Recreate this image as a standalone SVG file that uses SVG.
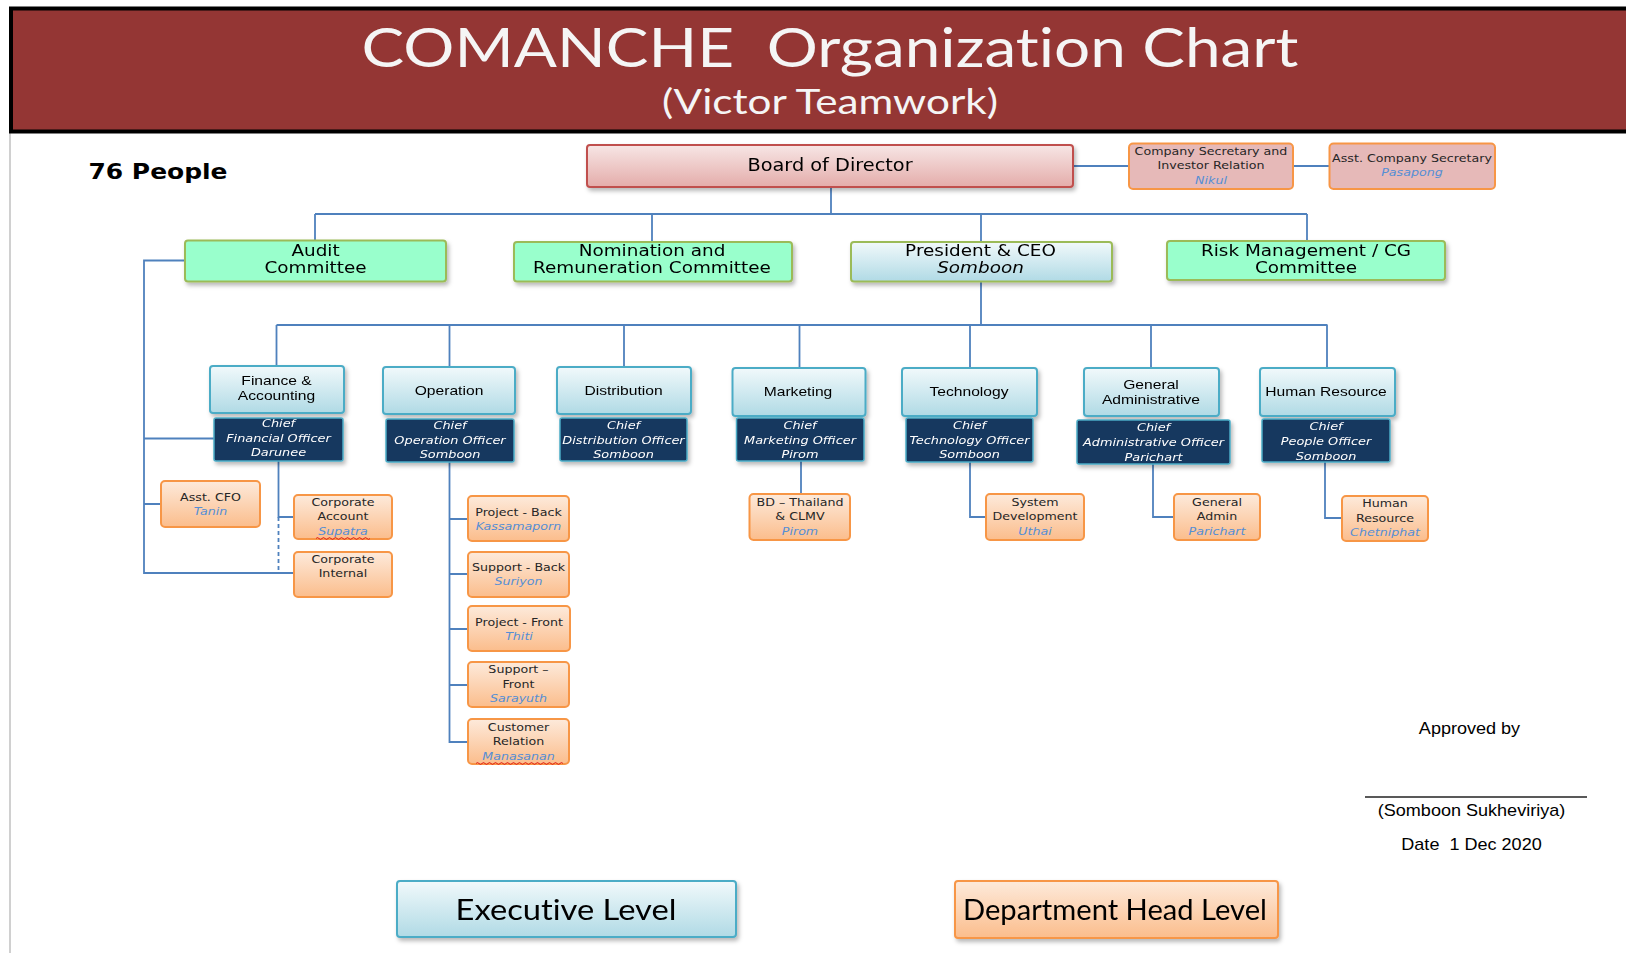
<svg xmlns="http://www.w3.org/2000/svg" width="1626" height="953" viewBox="0 0 1626 953">
<defs>
<style>
.t{font-family:"DejaVu Sans","Liberation Sans",sans-serif;text-anchor:middle}
.sub{font-size:11px;fill:#262626}
.nm{font-style:italic;fill:#558ed5}
.dk{font-size:11.2px;font-style:italic;fill:#ffffff}
.dp{font-family:"Liberation Sans",Arial,sans-serif;font-size:13.6px;fill:#000;text-anchor:middle}
.cm{font-size:16px;fill:#000}
.ln{fill:none;stroke:#4f81bd;stroke-width:1.8}
.green{fill:#99ffcc;stroke:#9bbb59;stroke-width:2}
.dept{fill:url(#blueG);stroke:#4bacc6;stroke-width:2}
.dark{fill:#17375e;stroke:#4bacc6;stroke-width:1.5}
.org{fill:url(#orgG);stroke:#f79646;stroke-width:2}
.sec{fill:#e6b9b8;stroke:#f79646;stroke-width:2}
.sig{font-family:"Liberation Sans",Arial,sans-serif;font-size:15.7px;fill:#000;text-anchor:middle}
.lat{font-family:Lato,"Open Sans",sans-serif;text-anchor:middle;font-variant-ligatures:none;font-feature-settings:"liga" 0,"dlig" 0}
</style>
<linearGradient id="blueG" x1="0" y1="0" x2="0" y2="1"><stop offset="0" stop-color="#f1f9fb"/><stop offset="1" stop-color="#b0dae5"/></linearGradient>
<linearGradient id="orgG" x1="0" y1="0" x2="0" y2="1"><stop offset="0" stop-color="#fdeadb"/><stop offset="1" stop-color="#fbbd8c"/></linearGradient>
<linearGradient id="pinkG" x1="0" y1="0" x2="0" y2="1"><stop offset="0" stop-color="#f7e6e5"/><stop offset="1" stop-color="#e4acaa"/></linearGradient>
<filter id="sh" x="-10%" y="-20%" width="130%" height="160%"><feDropShadow dx="2" dy="3" stdDeviation="2" flood-color="#000" flood-opacity="0.28"/></filter>
</defs>
<rect width="1626" height="953" fill="#ffffff"/>
<line x1="10" y1="133" x2="10" y2="953" stroke="#d0d0d0" stroke-width="2"/>

<g id="header">
<rect x="11" y="8.5" width="1625" height="123" fill="#943634" stroke="#000" stroke-width="4"/>
<text class="lat" x="830" y="67" font-size="54" fill="#f5f5f5" textLength="937" lengthAdjust="spacingAndGlyphs" style="white-space:pre">COMANCHE  Organization Chart</text>
<text class="lat" x="830" y="114" font-size="34" fill="#f5f5f5" textLength="336" lengthAdjust="spacingAndGlyphs">(Victor Teamwork)</text>
</g>

<text id="people" transform="matrix(1.15 0 0 1 158 0)" x="0" y="179" font-family="'DejaVu Sans',sans-serif" font-weight="bold" font-size="21.7" text-anchor="middle" fill="#000">76 People</text>

<g id="connectors">
<path class="ln" d="M1073 166H1129M1293 166H1329.5"/>
<path class="ln" d="M831 187V214M315 214H1307M315 214V240M652 214V242M981 214V242M1307 214V241"/>
<path class="ln" d="M981 281V325M276.5 325H1327.5M276.5 325V366M449.5 325V367M624 325V367M799.5 325V368M970 325V368M1151 325V368M1327 325V368"/>
<path class="ln" d="M185 260.5H144V573H294M144 438.5H214M144 504H161"/>
<path class="ln" d="M278.5 461V517H294"/>
<path class="ln" d="M278.5 517V573" stroke-dasharray="4 3"/>
<path class="ln" d="M449.5 462V742H468M449.5 519H468M449.5 574H468M449.5 629H468M449.5 685H468"/>
<path class="ln" d="M801 461V494"/>
<path class="ln" d="M970 462V517H986"/>
<path class="ln" d="M1153 464V517H1174"/>
<path class="ln" d="M1325 462V518H1342"/>
</g>

<g id="board" filter="url(#sh)">
<rect x="587" y="145" width="486" height="42" rx="3" fill="url(#pinkG)" stroke="#c0504d" stroke-width="2"/>
<text class="t" transform="matrix(1.15 0 0 1 830 0)" x="0" y="171" font-size="16.8">Board of Director</text>
</g>
<g id="compsec">
<rect class="sec" x="1129" y="143.5" width="164" height="45.5" rx="4"/>
<g transform="matrix(1.15 0 0 1 1211 0)"><text class="t sub" x="0" y="155">Company Secretary and</text><text class="t sub" x="0" y="169.5">Investor Relation</text><text class="t sub nm" x="0" y="184">Nikul</text></g>
</g>
<g id="asstsec">
<rect class="sec" x="1329.5" y="143.5" width="165.5" height="45.5" rx="4"/>
<g transform="matrix(1.15 0 0 1 1412 0)"><text class="t sub" x="0" y="162">Asst. Company Secretary</text><text class="t sub nm" x="0" y="176.5">Pasapong</text></g>
</g>

<g id="audit" filter="url(#sh)">
<rect class="green" x="185" y="240.5" width="261" height="41" rx="3"/>
<g transform="matrix(1.15 0 0 1 315.5 0)"><text class="t cm" x="0" y="256">Audit</text><text class="t cm" x="0" y="273">Committee</text></g>
</g>
<g id="nomination" filter="url(#sh)">
<rect class="green" x="514" y="242" width="278" height="39.5" rx="3"/>
<g transform="matrix(1.15 0 0 1 652 0)"><text class="t cm" x="0" y="256.5">Nomination and</text><text class="t cm" x="0" y="273.5">Remuneration Committee</text></g>
</g>
<g id="president" filter="url(#sh)">
<rect x="851" y="242" width="261" height="39.5" rx="3" fill="url(#blueG)" stroke="#9bbb59" stroke-width="2"/>
<g transform="matrix(1.15 0 0 1 980.5 0)"><text class="t cm" x="0" y="256.5">President &amp; CEO</text><text class="t cm" x="0" y="273.5" font-style="italic">Somboon</text></g>
</g>
<g id="risk" filter="url(#sh)">
<rect class="green" x="1167" y="241" width="278" height="39" rx="3"/>
<g transform="matrix(1.15 0 0 1 1306 0)"><text class="t cm" x="0" y="256">Risk Management / CG</text><text class="t cm" x="0" y="273">Committee</text></g>
</g>

<g id="finance" filter="url(#sh)">
<rect class="dept" x="210" y="366" width="134" height="47" rx="3"/>
<g transform="matrix(1.15 0 0 1 276.5 0)"><text class="dp" x="0" y="385.5">Finance &amp;</text><text class="dp" x="0" y="400">Accounting</text></g>
<rect class="dark" x="214" y="418" width="129" height="43" rx="2"/>
<g transform="matrix(1.15 0 0 1 278.5 0)"><text class="t dk" x="0" y="427.5">Chief</text><text class="t dk" x="0" y="442.5">Financial Officer</text><text class="t dk" x="0" y="456.5">Darunee</text></g>
</g>
<g id="operation" filter="url(#sh)">
<rect class="dept" x="383" y="367" width="132" height="47" rx="3"/>
<g transform="matrix(1.15 0 0 1 449 0)"><text class="dp" x="0" y="395">Operation</text></g>
<rect class="dark" x="386" y="419" width="128" height="43" rx="2"/>
<g transform="matrix(1.15 0 0 1 450 0)"><text class="t dk" x="0" y="429">Chief</text><text class="t dk" x="0" y="444">Operation Officer</text><text class="t dk" x="0" y="458">Somboon</text></g>
</g>
<g id="distribution" filter="url(#sh)">
<rect class="dept" x="557" y="367" width="134" height="47" rx="3"/>
<g transform="matrix(1.15 0 0 1 623.5 0)"><text class="dp" x="0" y="395">Distribution</text></g>
<rect class="dark" x="560" y="418" width="127" height="43" rx="2"/>
<g transform="matrix(1.15 0 0 1 623.5 0)"><text class="t dk" x="0" y="429">Chief</text><text class="t dk" x="0" y="444">Distribution Officer</text><text class="t dk" x="0" y="458">Somboon</text></g>
</g>
<g id="marketing" filter="url(#sh)">
<rect class="dept" x="732.5" y="368" width="133" height="48" rx="3"/>
<g transform="matrix(1.15 0 0 1 798 0)"><text class="dp" x="0" y="396.5">Marketing</text></g>
<rect class="dark" x="736.5" y="418" width="127.5" height="43" rx="2"/>
<g transform="matrix(1.15 0 0 1 800 0)"><text class="t dk" x="0" y="429">Chief</text><text class="t dk" x="0" y="444">Marketing Officer</text><text class="t dk" x="0" y="458">Pirom</text></g>
</g>
<g id="technology" filter="url(#sh)">
<rect class="dept" x="902" y="368" width="135" height="48" rx="3"/>
<g transform="matrix(1.15 0 0 1 969 0)"><text class="dp" x="0" y="396.5">Technology</text></g>
<rect class="dark" x="906" y="418" width="127" height="44" rx="2"/>
<g transform="matrix(1.15 0 0 1 969.5 0)"><text class="t dk" x="0" y="429">Chief</text><text class="t dk" x="0" y="444">Technology Officer</text><text class="t dk" x="0" y="458">Somboon</text></g>
</g>
<g id="genadmin" filter="url(#sh)">
<rect class="dept" x="1084" y="368" width="135" height="48" rx="3"/>
<g transform="matrix(1.15 0 0 1 1151 0)"><text class="dp" x="0" y="389.5">General</text><text class="dp" x="0" y="404">Administrative</text></g>
<rect class="dark" x="1077" y="420" width="153" height="44" rx="2"/>
<g transform="matrix(1.15 0 0 1 1153.5 0)"><text class="t dk" x="0" y="431.5">Chief</text><text class="t dk" x="0" y="446.5">Administrative Officer</text><text class="t dk" x="0" y="461">Parichart</text></g>
</g>
<g id="hr" filter="url(#sh)">
<rect class="dept" x="1260" y="368" width="135" height="48" rx="3"/>
<g transform="matrix(1.15 0 0 1 1326 0)"><text class="dp" x="0" y="396.5">Human Resource</text></g>
<rect class="dark" x="1262" y="419" width="128" height="43" rx="2"/>
<g transform="matrix(1.15 0 0 1 1326 0)"><text class="t dk" x="0" y="430.5">Chief</text><text class="t dk" x="0" y="445.5">People Officer</text><text class="t dk" x="0" y="460">Somboon</text></g>
</g>

<g id="asstcfo"><rect class="org" x="161" y="481" width="99" height="46" rx="4"/>
<g transform="matrix(1.15 0 0 1 210.5 0)"><text class="t sub" x="0" y="501">Asst. CFO</text><text class="t sub nm" x="0" y="515.5">Tanin</text></g></g>
<g id="corpaccount"><rect class="org" x="294" y="495" width="98" height="44" rx="4"/>
<g transform="matrix(1.15 0 0 1 343 0)"><text class="t sub" x="0" y="506">Corporate</text><text class="t sub" x="0" y="520.5">Account</text><text class="t sub nm" x="0" y="535">Supatra</text></g>
<path d="M316 538.5q1.5-2 3 0t3 0t3 0t3 0t3 0t3 0t3 0t3 0t3 0t3 0t3 0t3 0t3 0t3 0t3 0t3 0t3 0t3 0" fill="none" stroke="#e02020" stroke-width="1"/></g>
<g id="corpinternal"><rect class="org" x="294" y="552" width="98" height="45" rx="4"/>
<g transform="matrix(1.15 0 0 1 343 0)"><text class="t sub" x="0" y="563">Corporate</text><text class="t sub" x="0" y="577.5">Internal</text></g></g>

<g id="projback"><rect class="org" x="468" y="496" width="101" height="45" rx="4"/>
<g transform="matrix(1.15 0 0 1 518.5 0)"><text class="t sub" x="0" y="516">Project - Back</text><text class="t sub nm" x="0" y="530.5">Kassamaporn</text></g></g>
<g id="suppback"><rect class="org" x="468" y="552" width="101" height="45" rx="4"/>
<g transform="matrix(1.15 0 0 1 518.5 0)"><text class="t sub" x="0" y="571">Support - Back</text><text class="t sub nm" x="0" y="585.5">Suriyon</text></g></g>
<g id="projfront"><rect class="org" x="468" y="606" width="102" height="45" rx="4"/>
<g transform="matrix(1.15 0 0 1 519 0)"><text class="t sub" x="0" y="626">Project - Front</text><text class="t sub nm" x="0" y="640">Thiti</text></g></g>
<g id="suppfront"><rect class="org" x="468" y="662" width="101" height="45" rx="4"/>
<g transform="matrix(1.15 0 0 1 518.5 0)"><text class="t sub" x="0" y="673">Support –</text><text class="t sub" x="0" y="688">Front</text><text class="t sub nm" x="0" y="702.5">Sarayuth</text></g></g>
<g id="custrel"><rect class="org" x="468" y="719" width="101" height="45" rx="4"/>
<g transform="matrix(1.15 0 0 1 518.5 0)"><text class="t sub" x="0" y="731">Customer</text><text class="t sub" x="0" y="745.5">Relation</text><text class="t sub nm" x="0" y="760">Manasanan</text></g>
<path d="M476 763.5q1.5-2 3 0t3 0t3 0t3 0t3 0t3 0t3 0t3 0t3 0t3 0t3 0t3 0t3 0t3 0t3 0t3 0t3 0t3 0t3 0t3 0t3 0t3 0t3 0t3 0t3 0t3 0t3 0t3 0t3 0" fill="none" stroke="#e02020" stroke-width="1"/></g>

<g id="bd"><rect class="org" x="749.5" y="494" width="100.5" height="46" rx="4"/>
<g transform="matrix(1.15 0 0 1 800 0)"><text class="t sub" x="0" y="506">BD – Thailand</text><text class="t sub" x="0" y="520.5">&amp; CLMV</text><text class="t sub nm" x="0" y="535">Pirom</text></g></g>
<g id="sysdev"><rect class="org" x="986" y="494" width="98" height="46" rx="4"/>
<g transform="matrix(1.15 0 0 1 1035 0)"><text class="t sub" x="0" y="506">System</text><text class="t sub" x="0" y="520.5">Development</text><text class="t sub nm" x="0" y="535">Uthai</text></g></g>
<g id="gaadmin"><rect class="org" x="1174" y="494" width="86" height="46" rx="4"/>
<g transform="matrix(1.15 0 0 1 1217 0)"><text class="t sub" x="0" y="506">General</text><text class="t sub" x="0" y="520.5">Admin</text><text class="t sub nm" x="0" y="535">Parichart</text></g></g>
<g id="hrsub"><rect class="org" x="1342" y="496" width="86" height="45" rx="4"/>
<g transform="matrix(1.15 0 0 1 1385 0)"><text class="t sub" x="0" y="507">Human</text><text class="t sub" x="0" y="522">Resource</text><text class="t sub nm" x="0" y="536">Chetniphat</text></g></g>

<g id="approval">
<g transform="matrix(1.15 0 0 1 1469.5 0)"><text class="sig" x="0" y="734">Approved by</text></g>
<line x1="1365" y1="797" x2="1587" y2="797" stroke="#222" stroke-width="1.5"/>
<g transform="matrix(1.15 0 0 1 1471.5 0)"><text class="sig" x="0" y="816">(Somboon Sukheviriya)</text><text class="sig" x="0" y="850.5" style="white-space:pre">Date  1 Dec 2020</text></g>
</g>

<g id="legend-exec" filter="url(#sh)">
<rect x="397" y="881" width="339" height="56" rx="3" fill="url(#blueG)" stroke="#4bacc6" stroke-width="2"/>
<text class="lat" x="566" y="920" font-size="28" fill="#000" textLength="221" lengthAdjust="spacingAndGlyphs">Executive Level</text>
</g>
<g id="legend-dept" filter="url(#sh)">
<rect x="955" y="881" width="323" height="57" rx="3" fill="url(#orgG)" stroke="#f79646" stroke-width="2"/>
<text class="lat" x="1115" y="920" font-size="28" fill="#000" textLength="304" lengthAdjust="spacingAndGlyphs">Department Head Level</text>
</g>
</svg>
